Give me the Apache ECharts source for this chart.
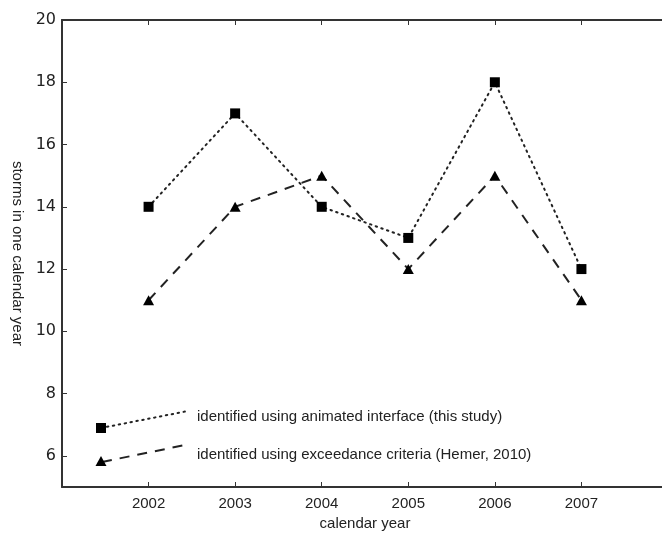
<!DOCTYPE html>
<html>
<head>
<meta charset="utf-8">
<script src="https://cdn.jsdelivr.net/npm/echarts@6/dist/echarts.min.js"></script>
<style>
  html, body { margin: 0; padding: 0; background: #fff; }
  #chart { width: 662px; height: 534px; }
</style>
</head>
<body>
<div id="chart"></div>
<script>
// data
var years = [2002, 2003, 2004, 2005, 2006, 2007];
var animated = [14, 17, 14, 13, 18, 12];     // this study (squares, dotted)
var exceedance = [11, 14, 15, 12, 15, 11];   // Hemer 2010 (triangles, dashed)
var yTicks = [6, 8, 10, 12, 14, 16, 18, 20];
var legendNames = [
  'identified using animated interface (this study)',
  'identified using exceedance criteria (Hemer, 2010)'
];

var axisColor = '#333';
var font = '"Liberation Sans", Arial, sans-serif';

function pairs(xs, ys) {
  return xs.map(function (x, i) { return [x, ys[i]]; });
}

var chart = echarts.init(document.getElementById('chart'), null, { renderer: 'canvas' });

function xAx(pos, showLabel) {
  return {
    type: 'value', position: pos, min: 2001, max: 2008,
    axisLine: { show: true, lineStyle: { color: axisColor, width: 2 } },
    axisTick: { show: true, inside: true, length: 5, customValues: years, lineStyle: { color: axisColor, width: 1 } },
    axisLabel: {
      show: showLabel, customValues: years, fontSize: 15, color: '#222', fontFamily: font, margin: 9,
      formatter: function (v) { return String(v); }
    },
    splitLine: { show: false },
    name: showLabel ? 'calendar year' : '',
    nameLocation: 'middle', nameGap: 28,
    nameTextStyle: { fontSize: 15, color: '#222', fontFamily: font }
  };
}
function yAx(pos, showLabel) {
  return {
    type: 'value', position: pos, min: 5, max: 20,
    axisLine: { show: true, lineStyle: { color: axisColor, width: 2 } },
    axisTick: { show: true, inside: true, length: 5, customValues: yTicks, lineStyle: { color: axisColor, width: 1 } },
    axisLabel: { show: showLabel, customValues: yTicks, fontSize: 16, color: '#222', fontFamily: '"DejaVu Sans", sans-serif', margin: 6 },
    splitLine: { show: false },
    name: showLabel ? 'storms in one calendar year' : '',
    nameLocation: 'middle', nameGap: 35, nameRotate: -90,
    nameTextStyle: { fontSize: 15, color: '#222', fontFamily: font }
  };
}

var option = {
  animation: false,
  backgroundColor: '#fff',
  // right spine sits just past the canvas edge, as in the original crop
  grid: { left: 62, top: 20, width: 606, height: 467, containLabel: false, outerBoundsMode: 'none' },
  xAxis: [xAx('bottom', true), xAx('top', false)],
  yAxis: [yAx('left', true), yAx('right', false)],
  series: [
    {
      name: legendNames[0], type: 'line', data: pairs(years, animated),
      symbol: 'rect', symbolSize: 10,
      itemStyle: { color: '#000' },
      lineStyle: { color: '#222', width: 2, type: [1.5, 4.5], cap: 'round' }
    },
    {
      name: legendNames[1], type: 'line', data: pairs(years, exceedance),
      symbol: 'triangle', symbolSize: [11, 10],
      itemStyle: { color: '#000' },
      lineStyle: { color: '#222', width: 2, type: [10, 8] }
    }
  ],
  graphic: [
    // hand-drawn legend, slanted like the original
    { type: 'polyline', shape: { points: [[101, 428], [188, 411]] },
      style: { stroke: '#222', lineWidth: 2, lineDash: [1.5, 4.5], lineCap: 'round' } },
    { type: 'rect', shape: { x: 96, y: 423, width: 10, height: 10 }, style: { fill: '#000' } },
    { type: 'text', x: 197, y: 417, style: { text: legendNames[0], fill: '#222', font: '15px ' + font, textVerticalAlign: 'middle' } },
    { type: 'polyline', shape: { points: [[102, 462], [190, 444]] },
      style: { stroke: '#222', lineWidth: 2, lineDash: [10, 8] } },
    { type: 'polygon', shape: { points: [[101, 456], [106.5, 466], [95.5, 466]] }, style: { fill: '#000' } },
    { type: 'text', x: 197, y: 455, style: { text: legendNames[1], fill: '#222', font: '15px ' + font, textVerticalAlign: 'middle' } }
  ]
};

chart.setOption(option);
</script>
</body>
</html>
